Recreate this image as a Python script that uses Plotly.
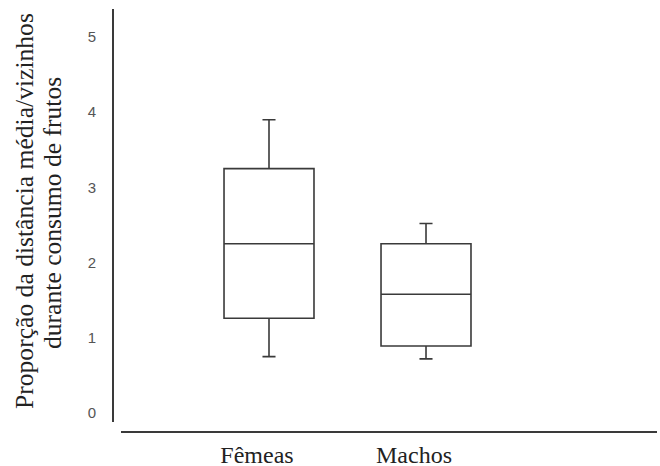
import plotly.graph_objects as go

categories = ["Fêmeas", "Machos"]
lower_whisker = [0.75, 0.72]
q1_vals = [1.26, 0.89]
median_vals = [2.25, 1.58]
q3_vals = [3.25, 2.25]
upper_whisker = [3.90, 2.52]
y_ticks = [0, 1, 2, 3, 4, 5]
title_line1 = "Proporção da distância média/vizinhos"
title_line2 = "durante consumo de frutos"

W, H = 660, 466
ml, mr, mt, mb = 113, 3, 9, 34
pw = W - ml - mr
ph = H - mt - mb

fig = go.Figure()
for i, c in enumerate(categories):
    fig.add_trace(go.Box(
        x=[c],
        q1=[q1_vals[i]], median=[median_vals[i]], q3=[q3_vals[i]],
        lowerfence=[lower_whisker[i]], upperfence=[upper_whisker[i]],
        width=0.573, whiskerwidth=0.145,
        fillcolor="white",
        line=dict(color="#3a3a3a", width=1.6),
        boxpoints=False, showlegend=False, hoverinfo="skip",
    ))

fig.update_layout(
    template="none",
    width=W, height=H,
    margin=dict(l=ml, r=mr, t=mt, b=mb, pad=0, autoexpand=False),
    paper_bgcolor="white", plot_bgcolor="white",
    xaxis=dict(
        type="category", categoryorder="array", categoryarray=categories,
        domain=[8 / pw, 1], range=[-0.9427, 2.4713],
        anchor="free", position=0, automargin=False,
        showline=True, linecolor="#3a3a3a", linewidth=2,
        showgrid=False, zeroline=False, ticks="",
        tickfont=dict(family="Liberation Serif", size=24, color="#222"),
        ticklabelshift=-12, ticklabelstandoff=1,
    ),
    yaxis=dict(
        domain=[10 / ph, 1], range=[-0.1197, 5.372],
        anchor="free", position=0, automargin=False,
        showline=True, linecolor="#3a3a3a", linewidth=2,
        showgrid=False, zeroline=False, ticks="",
        tickvals=y_ticks, ticktext=[str(v) for v in y_ticks],
        tickfont=dict(family="Liberation Sans", size=15, color="#555"),
        ticklabelstandoff=13,
    ),
    annotations=[
        dict(text=title_line1, textangle=-90, xref="paper", yref="paper",
             x=(24 - ml) / pw, y=(H - mb - 211) / ph, xanchor="center", yanchor="middle",
             showarrow=False, font=dict(family="Liberation Serif", size=25.6, color="#222")),
        dict(text=title_line2, textangle=-90, xref="paper", yref="paper",
             x=(52 - ml) / pw, y=(H - mb - 213) / ph, xanchor="center", yanchor="middle",
             showarrow=False, font=dict(family="Liberation Serif", size=25.6, color="#222")),
    ],
)

fig.write_html("out.html", config={"displayModeBar": False},
               post_script="document.body.style.margin='0';")
